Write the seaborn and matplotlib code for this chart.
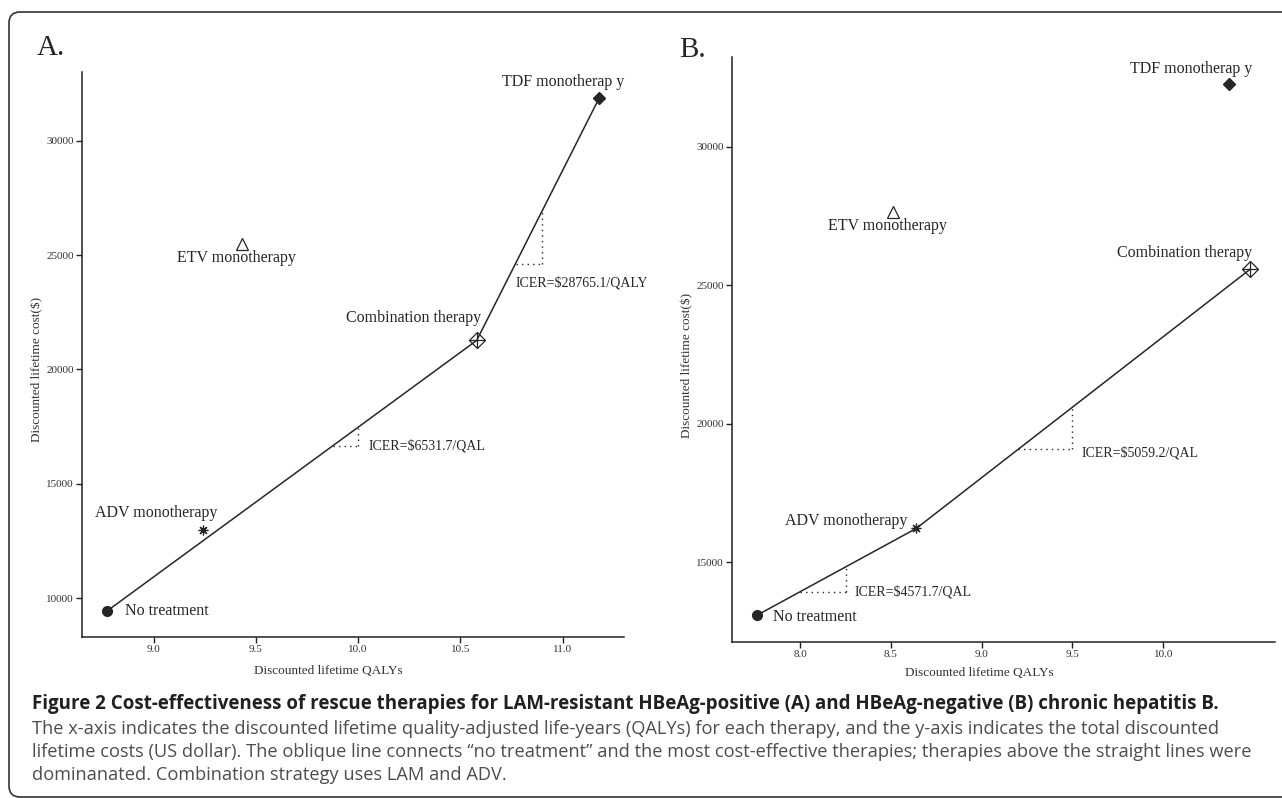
import matplotlib.pyplot as plt
import numpy as np
import pandas as pd
import seaborn as sns
from matplotlib.patches import FancyBboxPatch
from matplotlib.transforms import IdentityTransform

# Data (QALYs, cost in $)
therapies = ['No treatment', 'ADV monotherapy', 'ETV monotherapy', 'Combination therapy', 'TDF monotherap y']
qaly_a = [8.77, 9.24, 9.43, 10.58, 11.18]
cost_a = [9430, 12970, 25480, 21270, 31880]
qaly_b = [7.76, 8.64, 8.51, 10.48, 10.36]
cost_b = [13090, 16230, 27630, 25580, 32270]
frontier_a = ['No treatment', 'Combination therapy', 'TDF monotherap y']
frontier_b = ['No treatment', 'ADV monotherapy', 'Combination therapy']

icer_text_a = [r'ICER=\$6531.7/QAL', r'ICER=\$28765.1/QALY']
icer_text_b = [r'ICER=\$4571.7/QAL', r'ICER=\$5059.2/QAL']
icer_seg_a = [(9.875, 10.0), (10.77, 10.9)]
icer_seg_b = [(8.0, 8.25), (9.2, 9.5)]
icer_pos_a = [(10.05, 16650), (10.77, 23780)]
icer_pos_b = [(8.30, 13955), (9.55, 18966)]

label_pos_a = [(8.86, 9430, 'left'), (9.01, 13730, 'center'), (9.405, 24870, 'center'),
               (10.27, 22250, 'center'), (11.005, 32580, 'center')]
label_pos_b = [(7.85, 13050, 'left'), (8.254, 16480, 'center'), (8.48, 27130, 'center'),
               (10.12, 26150, 'center'), (10.155, 32810, 'center')]

xticks_a = [9.0, 9.5, 10.0, 10.5, 11.0]
yticks_a = [10000, 15000, 20000, 25000, 30000]
xticks_b = [8.0, 8.5, 9.0, 9.5, 10.0]
yticks_b = [15000, 20000, 25000, 30000]

caption_title = ('Figure 2 Cost-effectiveness of rescue therapies for LAM-resistant HBeAg-positive (A) '
                 'and HBeAg-negative (B) chronic hepatitis B.')
caption_lines = [
    'The x-axis indicates the discounted lifetime quality-adjusted life-years (QALYs) for each therapy, '
    'and the y-axis indicates the total discounted',
    'lifetime costs (US dollar). The oblique line connects \u201cno treatment\u201d and the most '
    'cost-effective therapies; therapies above the straight lines were',
    'dominanated. Combination strategy uses LAM and ADV.',
]

sns.set_theme(style='ticks')
plt.rcParams['font.family'] = ['Liberation Serif', 'DejaVu Serif']
plt.rcParams['axes.edgecolor'] = '#222222'
plt.rcParams['xtick.color'] = '#222222'
plt.rcParams['ytick.color'] = '#222222'

W, H = 1282, 798
ink = '#262626'

fig = plt.figure(figsize=(W / 100, H / 100), dpi=100)


def px_axes(l, t, r, b):
    return fig.add_axes([l / W, 1 - b / H, (r - l) / W, (b - t) / H])


def draw_panel(ax, qaly, cost, frontier, segs, icer_text, icer_pos, label_pos, xticks, yticks):
    df = pd.DataFrame({'therapy': therapies, 'qaly': qaly, 'cost': cost})
    fr = df.set_index('therapy').loc[frontier].reset_index()
    sns.lineplot(data=fr, x='qaly', y='cost', sort=False, color=ink, lw=1.1, ax=ax)

    d = df.set_index('therapy')
    # markers in the style of R pch symbols
    ax.plot(d.loc['No treatment', 'qaly'], d.loc['No treatment', 'cost'], 'o', ms=7, color=ink)
    ax.plot(d.loc['ADV monotherapy', 'qaly'], d.loc['ADV monotherapy', 'cost'],
            marker=(8, 2, 0), ms=7, color=ink, mew=0.9, ls='none')
    ax.plot(d.loc['ETV monotherapy', 'qaly'], d.loc['ETV monotherapy', 'cost'], '^', ms=9,
            mfc='white', mec=ink, mew=0.9)
    ax.plot(d.loc['Combination therapy', 'qaly'], d.loc['Combination therapy', 'cost'], 'D', ms=8,
            mfc='none', mec=ink, mew=0.9)
    ax.plot(d.loc['Combination therapy', 'qaly'], d.loc['Combination therapy', 'cost'], '+', ms=11,
            mec=ink, mew=0.9)
    ax.plot(d.loc['TDF monotherap y', 'qaly'], d.loc['TDF monotherap y', 'cost'], 'D', ms=6, color=ink)

    # ICER triangles
    for (x1, x2), txt, (tx, ty) in zip(segs, icer_text, icer_pos):
        y1 = np.interp(x1, fr['qaly'], fr['cost'])
        y2 = np.interp(x2, fr['qaly'], fr['cost'])
        ax.plot([x1, x2], [y1, y1], ls=(0, (1, 3)), color=ink, lw=1.0)
        ax.plot([x2, x2], [y1, y2], ls=(0, (1, 3)), color=ink, lw=1.0)
        ax.text(tx, ty, txt, ha='left', va='center', fontsize=10, color=ink, clip_on=False)

    for name, (lx, ly, ha) in zip(therapies, label_pos):
        ax.text(lx, ly, name, ha=ha, va='center', fontsize=11.5, color=ink, clip_on=False)

    # ggplot-like 5% expansion
    xr = max(qaly) - min(qaly)
    yr = max(cost) - min(cost)
    ax.set_xlim(min(qaly) - 0.05 * xr, max(qaly) + 0.05 * xr)
    ax.set_ylim(min(cost) - 0.05 * yr, max(cost) + 0.05 * yr)
    ax.set_xticks(xticks)
    ax.set_xticklabels([f'{v:.1f}' for v in xticks])
    ax.set_yticks(yticks)
    ax.set_yticklabels([str(v) for v in yticks])
    ax.tick_params(labelsize=8, length=4, width=1, pad=2, labelcolor='#333333')
    sns.despine(ax=ax)
    for s in ['left', 'bottom']:
        ax.spines[s].set_linewidth(1.1)
    ax.set_facecolor('none')
    ax.set_xlabel('Discounted lifetime QALYs', fontsize=9.5, color='#333333')
    ax.set_ylabel('Discounted lifetime cost($)', fontsize=9.5, color='#333333', va='center')


ax1 = px_axes(82, 72, 624, 637)
draw_panel(ax1, qaly_a, cost_a, frontier_a, icer_seg_a, icer_text_a, icer_pos_a, label_pos_a,
           xticks_a, yticks_a)
ax1.xaxis.set_label_coords(0.455, -(665 - 637) / 565)
ax1.yaxis.set_label_coords(-(82 - 37) / 542, 0.474)

ax2 = px_axes(732, 57, 1275, 642)
draw_panel(ax2, qaly_b, cost_b, frontier_b, icer_seg_b, icer_text_b, icer_pos_b, label_pos_b,
           xticks_b, yticks_b)
ax2.xaxis.set_label_coords(0.455, -(667 - 642) / 585)
ax2.yaxis.set_label_coords(-(732 - 687) / 543, 0.473)

fig.text(37 / W, 1 - 55 / H, 'A.', fontsize=21, color=ink, va='baseline')
fig.text(679 / W, 1 - 57 / H, 'B.', fontsize=21, color=ink, va='baseline')

# rounded frame around the figure
frame = FancyBboxPatch((9, 1), 1320, 785, boxstyle='round,pad=0,rounding_size=11',
                       transform=IdentityTransform(), fill=False, ec='#333333', lw=1.2)
fig.patches.append(frame)

# caption
cap_font = ['Open Sans', 'DejaVu Sans']
title = fig.text(32 / W, 1 - 704 / H, caption_title, fontsize=12, fontweight='bold',
                 family=cap_font, color='#231f20', va='center')
body = []
for i, line in enumerate(caption_lines):
    body.append(fig.text(32 / W, 1 - (729 + 23 * i) / H, line, fontsize=11, family=cap_font,
                         color='#4d4d4d', va='center'))

fig.canvas.draw()
r = fig.canvas.get_renderer()
title.set_fontsize(title.get_fontsize() * (1217 - 32) / title.get_window_extent(r).width)
scale = (1225 - 32) / body[0].get_window_extent(r).width
for t in body:
    t.set_fontsize(t.get_fontsize() * scale)

fig.savefig('out.png', dpi=100)
